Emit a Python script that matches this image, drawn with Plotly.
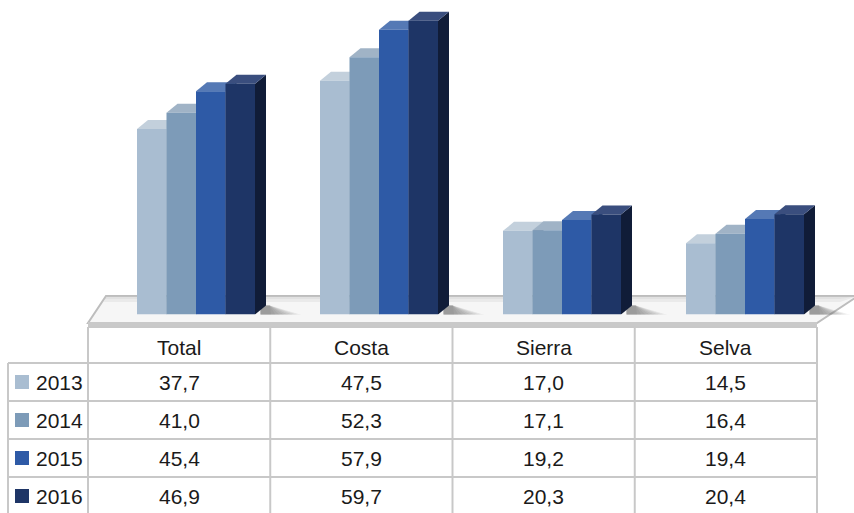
import plotly.graph_objects as go

# ---- data ----
regions = ["Total", "Costa", "Sierra", "Selva"]
years = ["2013", "2014", "2015", "2016"]
v2013 = [37.7, 47.5, 17.0, 14.5]
v2014 = [41.0, 52.3, 17.1, 16.4]
v2015 = [45.4, 57.9, 19.2, 19.4]
v2016 = [46.9, 59.7, 20.3, 20.4]
series = [v2013, v2014, v2015, v2016]

# face colours per year: front, top, side
front_col = ["#A9BDD1", "#7D9BB8", "#2E5AA6", "#1E3566"]
top_col = ["#C3D0DC", "#A0B3C6", "#5579B5", "#3A4E7E"]
side_col = ["#8A9BAD", "#5F7891", "#214378", "#101C38"]

W, H = 854, 513

# axis geometry (pixel layout of the plotting area)
group_px = 183.0          # distance between region groups
first_px = 196.0          # centre of the first group
base_px = 314.5           # baseline of bars
unit_px = 4.92            # pixels per value unit
group_w = 118.0 / group_px  # group width in x units
bar_w = group_w / 4
dx = 11.0 / group_px      # 3-D depth offset (x units)
dy = 9.0 / unit_px        # 3-D depth offset (y units)

x_range = [-first_px / group_px, (W - first_px) / group_px]
y_top = base_px / unit_px


def px(x):
    return x / W


def py(y):
    return 1 - y / H


fig = go.Figure()
idx = list(range(len(regions)))
for k, (yr, vals) in enumerate(zip(years, series)):
    fig.add_trace(go.Bar(
        x=idx, y=vals, name=yr,
        marker=dict(color=front_col[k], line=dict(width=0)),
        hoverinfo="name+y",
    ))

shapes = []

# floor platform
floor = [(88, 323), (817, 323), (858, 296), (106, 296)]
path = "M " + " L ".join(f"{px(a)},{py(b)}" for a, b in floor) + " Z"
shapes.append(dict(type="path", xref="paper", yref="paper", path=path,
                   fillcolor="#F6F6F6", line=dict(color="#BDBDBD", width=2),
                   layer="below"))
# floor shading toward the back edge
for s, a in [(302, 0.25), (299, 0.25)]:
    shade = [(104, s), (840, s), (858, 296), (106, 296)]
    path = "M " + " L ".join(f"{px(a2)},{py(b)}" for a2, b in shade) + " Z"
    shapes.append(dict(type="path", xref="paper", yref="paper", path=path,
                       fillcolor=f"rgba(200,200,200,{a})", line=dict(width=0),
                       layer="below"))
# floor front edge
band = [(88, 322), (817, 322), (817, 328), (88, 328)]
path = "M " + " L ".join(f"{px(a)},{py(b)}" for a, b in band) + " Z"
shapes.append(dict(type="path", xref="paper", yref="paper", path=path,
                   fillcolor="#C9C9C9", line=dict(width=0), layer="below"))

# soft shadows falling to the right of each group
for i in idx:
    xr = i + group_w / 2 + dx
    for n in range(1, 9):
        s = 0.03 * n
        p = (f"M {xr - 0.03},{-0.6} L {xr + s},{-0.6} L {xr + 0.02},{dy} "
             f"L {xr - 0.03},{dy} Z")
        shapes.append(dict(type="path", xref="x", yref="y", path=p,
                           fillcolor="rgba(110,110,110,0.12)",
                           line=dict(width=0), layer="below"))

# top and side faces of the bars
for i in idx:
    for k, vals in enumerate(series):
        v = vals[i]
        x0 = i - group_w / 2 + k * bar_w
        x1 = x0 + bar_w
        side = (f"M {x1},0 L {x1 + dx},{dy} L {x1 + dx},{v + dy} "
                f"L {x1},{v} Z")
        shapes.append(dict(type="path", xref="x", yref="y", path=side,
                           fillcolor=side_col[k], line=dict(width=0),
                           layer="below"))
        top = (f"M {x0},{v} L {x1},{v} L {x1 + dx},{v + dy} "
               f"L {x0 + dx},{v + dy} Z")
        shapes.append(dict(type="path", xref="x", yref="y", path=top,
                           fillcolor=top_col[k], line=dict(width=0),
                           layer="below"))

# ---- data table ----
grid = "#C8C8C8"
col_x = [88, 270.25, 452.5, 634.75, 817]
row_y = [327, 363, 401, 439, 477, 515]
left_x = 8


def hline(x0, x1, y):
    shapes.append(dict(type="line", xref="paper", yref="paper",
                       x0=px(x0), x1=px(x1), y0=py(y), y1=py(y),
                       line=dict(color=grid, width=2)))


def vline(x, y0, y1):
    shapes.append(dict(type="line", xref="paper", yref="paper",
                       x0=px(x), x1=px(x), y0=py(y0), y1=py(y1),
                       line=dict(color=grid, width=2)))


hline(col_x[0], col_x[-1], row_y[0])
for y in row_y[1:]:
    hline(left_x, col_x[-1], y)
vline(left_x, row_y[1], row_y[-1])
for x in col_x:
    vline(x, row_y[0], row_y[-1])

annotations = []
font = dict(family="Liberation Sans, Arial, sans-serif", size=21, color="#1A1A1A")

for c, name in enumerate(regions):
    annotations.append(dict(
        x=px((col_x[c] + col_x[c + 1]) / 2), y=py((row_y[0] + row_y[1]) / 2 + 2),
        xref="paper", yref="paper", text=name, showarrow=False, font=font,
        xanchor="center", yanchor="middle"))

for r, (yr, vals) in enumerate(zip(years, series)):
    yc = (row_y[r + 1] + row_y[r + 2]) / 2
    shapes.append(dict(type="rect", xref="paper", yref="paper",
                       x0=px(15), x1=px(29), y0=py(yc - 7), y1=py(yc + 7),
                       fillcolor=front_col[r], line=dict(width=0)))
    annotations.append(dict(
        x=px(34), y=py(yc), xref="paper", yref="paper", text=yr,
        showarrow=False, font=font, xanchor="left", yanchor="middle"))
    for c, v in enumerate(vals):
        annotations.append(dict(
            x=px((col_x[c] + col_x[c + 1]) / 2), y=py(yc),
            xref="paper", yref="paper",
            text=f"{v:.1f}".replace(".", ","), showarrow=False, font=font,
            xanchor="center", yanchor="middle"))

fig.update_layout(
    width=W, height=H, autosize=False,
    margin=dict(l=0, r=0, t=0, b=0),
    paper_bgcolor="white", plot_bgcolor="rgba(0,0,0,0)",
    barmode="group", bargap=1 - group_w, bargroupgap=0,
    showlegend=False,
    xaxis=dict(range=x_range, domain=[0, 1], visible=False, fixedrange=True),
    yaxis=dict(range=[0, y_top], domain=[1 - base_px / H, 1], visible=False,
               fixedrange=True),
    shapes=shapes, annotations=annotations,
)

fig.write_html("out.html")
